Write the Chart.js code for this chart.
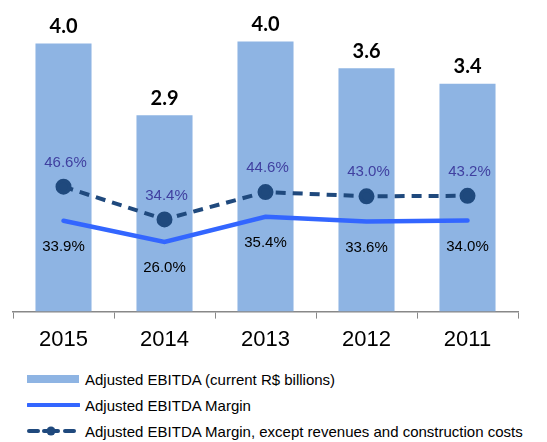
<!DOCTYPE html>
<html>
<head>
<meta charset="utf-8">
<script src="https://cdn.jsdelivr.net/npm/chart.js@4"></script>
<style>
  body { margin: 0; background: #fff; font-family: "Liberation Sans", Arial, sans-serif; }
  #wrap { position: relative; width: 547px; height: 362px; }
  #legend { padding: 4px 0 0 27px; font-size: 15px; color: #000; }
  .item { height: 26px; display: flex; align-items: center; white-space: nowrap; }
  .item svg { margin-right: 5px; flex: none; }
</style>
</head>
<body>
<div id="wrap"><canvas id="chart"></canvas></div>
<div id="legend">
  <div class="item"><svg width="53" height="10"><rect x="0" y="1" width="52" height="8" fill="#8eb4e3"/></svg>Adjusted EBITDA (current R$ billions)</div>
  <div class="item"><svg width="53" height="10"><line x1="1" y1="5" x2="52" y2="5" stroke="#3366ff" stroke-width="4" stroke-linecap="round"/></svg>Adjusted EBITDA Margin</div>
  <div class="item"><svg width="53" height="12"><g stroke="#1f497d" stroke-width="4" stroke-linecap="round"><line x1="2" y1="6" x2="11" y2="6"/><line x1="17" y1="6" x2="31" y2="6"/><line x1="38" y1="6" x2="47" y2="6"/></g><circle cx="24" cy="6" r="4.5" fill="#1f497d"/></svg>Adjusted EBITDA Margin, except revenues and construction costs</div>
</div>
<script>
// ---------- data ----------
const years = ["2015", "2014", "2013", "2012", "2011"];
const ebitda = [4.0, 2.93, 4.03, 3.63, 3.4];        // R$ billions
const ebitdaLabels = ["4.0", "2.9", "4.0", "3.6", "3.4"];
const margin = [33.9, 26.0, 35.4, 33.6, 34.0];      // %
const marginExCons = [46.6, 34.4, 44.6, 43.0, 43.2]; // %

// ---------- labels plugin ----------
const valueLabels = {
  id: "valueLabels",
  afterDatasetsDraw(chart) {
    const ctx = chart.ctx;
    ctx.save();
    ctx.textAlign = "center";
    ctx.textBaseline = "middle";

    // bar values (dataset 2)
    ctx.font = "bold 20px Lato, 'Liberation Sans', Arial";
    ctx.fillStyle = "#000";
    chart.getDatasetMeta(2).data.forEach((bar, i) => {
      ctx.fillText(ebitdaLabels[i], bar.x, bar.y - 17);
    });

    // margin (dataset 1, below the line)
    ctx.font = "15px 'Liberation Sans', Arial";
    ctx.fillStyle = "#000";
    chart.getDatasetMeta(1).data.forEach((pt, i) => {
      ctx.fillText(margin[i].toFixed(1) + "%", pt.x, pt.y + 26);
    });

    // margin except construction (dataset 0, above the line)
    ctx.fillStyle = "#4040a0";
    chart.getDatasetMeta(0).data.forEach((pt, i) => {
      ctx.fillText(marginExCons[i].toFixed(1) + "%", pt.x + 2, pt.y - 24);
    });
    ctx.restore();
  }
};

new Chart("chart", {
  data: {
    labels: years,
    datasets: [
      {
        type: "line",
        label: "Adjusted EBITDA Margin, except revenues and construction costs",
        data: marginExCons,
        yAxisID: "y2",
        borderColor: "#1f497d",
        backgroundColor: "#1f497d",
        borderWidth: 4,
        borderDash: [10, 7],
        pointRadius: 6,
        pointHoverRadius: 6,
        tension: 0,
        order: 0
      },
      {
        type: "line",
        label: "Adjusted EBITDA Margin",
        data: margin,
        yAxisID: "y2",
        borderColor: "#3366ff",
        borderWidth: 4.5,
        borderCapStyle: "round",
        pointRadius: 0,
        tension: 0,
        order: 1
      },
      {
        type: "bar",
        label: "Adjusted EBITDA (current R$ billions)",
        data: ebitda,
        yAxisID: "y",
        backgroundColor: "#8eb4e3",
        categoryPercentage: 1,
        barPercentage: 0.555,
        order: 2
      }
    ]
  },
  options: {
    responsive: true,
    maintainAspectRatio: false,
    animation: false,
    layout: { padding: { left: 13, right: 29, top: 3, bottom: 1 } },
    plugins: {
      legend: { display: false },
      tooltip: { enabled: false }
    },
    scales: {
      x: {
        offset: true,
        grid: {
          display: true,
          offset: true,
          drawOnChartArea: false,
          drawTicks: true,
          tickLength: 7,
          color: "#888"
        },
        border: { display: true, color: "#888", width: 1.5 },
        ticks: {
          color: "#000",
          padding: 8,
          font: { family: "'Liberation Sans', Arial", size: 22 }
        }
      },
      y: { display: false, min: 0, max: 4.5 },
      y2: { display: false, min: 0, max: 112.5 }
    }
  },
  plugins: [valueLabels]
});
</script>
</body>
</html>
